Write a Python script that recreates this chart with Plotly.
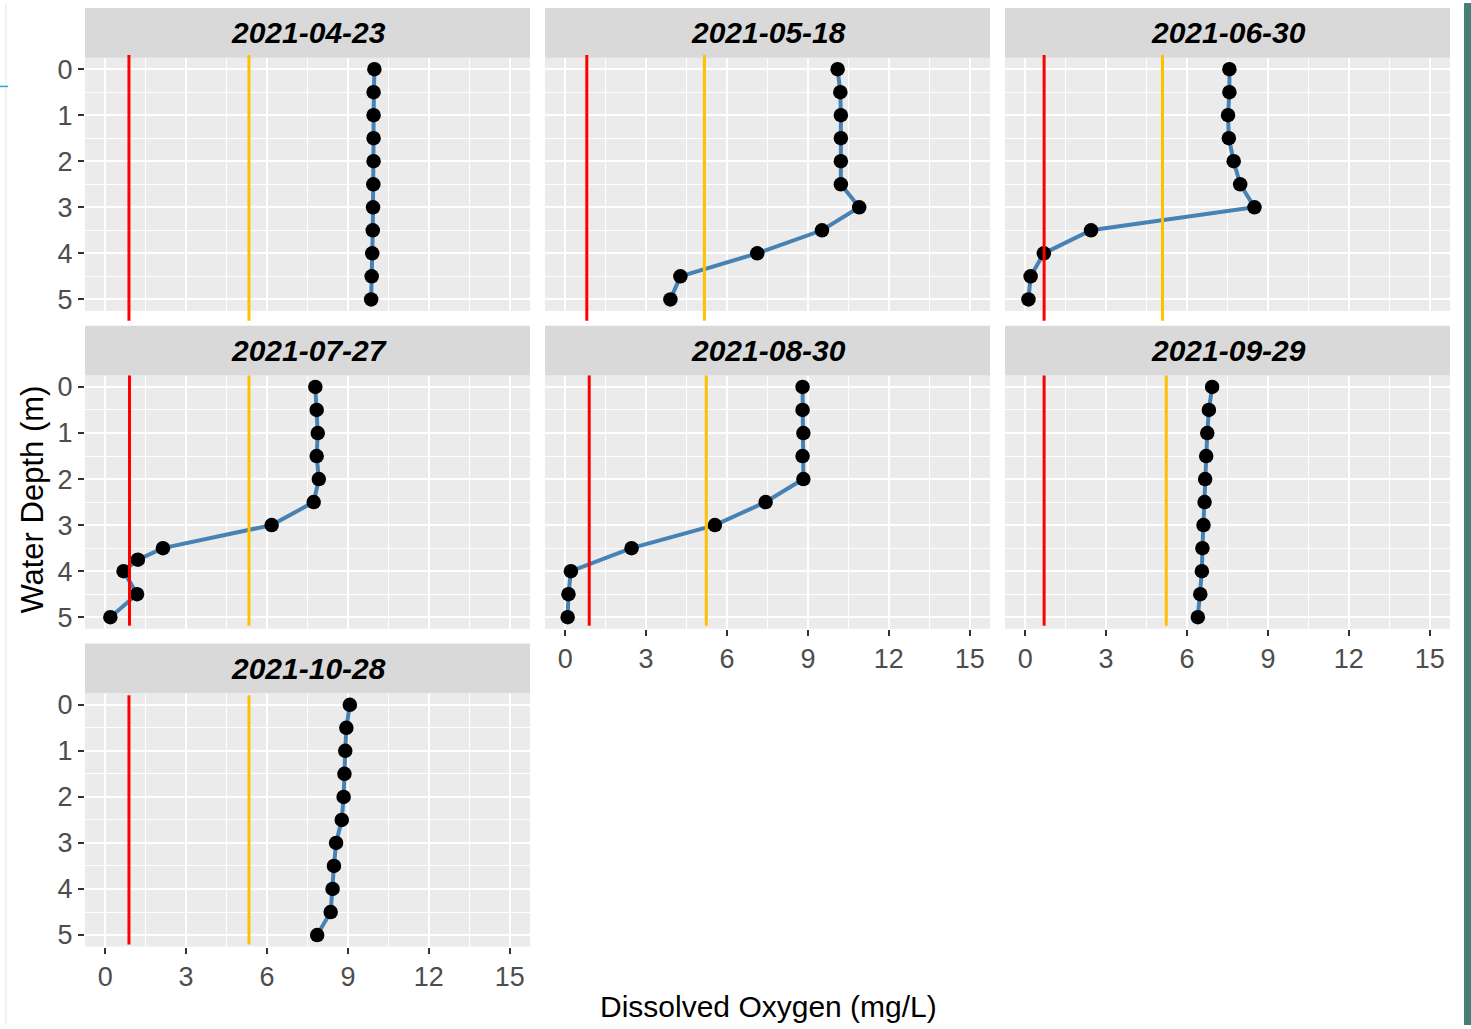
import plotly.graph_objects as go

# ---------------- data ----------------
dates = ["2021-04-23", "2021-05-18", "2021-06-30", "2021-07-27",
         "2021-08-30", "2021-09-29", "2021-10-28"]

depth_std = [0, 0.5, 1, 1.5, 2, 2.5, 3, 3.5, 4, 4.5, 5]
depth_0727 = [0, 0.5, 1, 1.5, 2, 2.5, 3, 3.5, 3.75, 4, 4.5, 5]

do_0423 = [9.98, 9.95, 9.95, 9.95, 9.95, 9.94, 9.93, 9.92, 9.90, 9.88, 9.86]
do_0518 = [10.10, 10.20, 10.22, 10.22, 10.22, 10.22, 10.90, 9.52, 7.12, 4.27, 3.90]
do_0630 = [7.57, 7.57, 7.52, 7.55, 7.73, 7.97, 8.50, 2.44, 0.69, 0.20, 0.12]
do_0727 = [7.79, 7.84, 7.88, 7.84, 7.92, 7.73, 6.17, 2.14, 1.21, 0.68, 1.18, 0.19]
do_0830 = [8.80, 8.80, 8.83, 8.80, 8.83, 7.43, 5.55, 2.46, 0.21, 0.12, 0.09]
do_0929 = [6.93, 6.81, 6.75, 6.71, 6.67, 6.65, 6.61, 6.57, 6.55, 6.49, 6.40]
do_1028 = [9.07, 8.94, 8.90, 8.87, 8.84, 8.77, 8.56, 8.48, 8.43, 8.36, 7.86]

depths = [depth_std, depth_std, depth_std, depth_0727, depth_std, depth_std, depth_std]
do_values = [do_0423, do_0518, do_0630, do_0727, do_0830, do_0929, do_1028]

red_line = [0.88, 0.80, 0.70, 0.90, 0.89, 0.70, 0.88]
yellow_line = [5.33, 5.16, 5.09, 5.33, 5.23, 5.23, 5.33]

x_ticks = [0, 3, 6, 9, 12, 15]
y_ticks = [0, 1, 2, 3, 4, 5]

# ---------------- layout geometry (pixels) ----------------
W, H = 1471, 1029
col_px = [(85, 530), (545, 990), (1005, 1450)]
row_panel_px = [(55, 310), (375, 630), (695, 950)]
row_strip_px = [(5, 55), (325, 375), (645, 695)]
# vertical extent of the threshold lines per row (y-domain fractions)
row_line_ext = [(-0.039, 1.01), (0.012, 1.0), (0.008, 0.992)]

def px_x(p):
    return p / W

def px_y(p):
    return 1 - p / H

FONT = "Liberation Sans, Arial, sans-serif"
TICK_COL = "#4D4D4D"

fig = go.Figure()
shapes = []
annotations = []

# bottom-most panel in each column carries the x tick labels
x_label_panels = {4, 5, 6}

for i, (date, dep, dov) in enumerate(zip(dates, depths, do_values)):
    r, c = divmod(i, 3)
    n = i + 1
    xa = "x" if n == 1 else f"x{n}"
    ya = "y" if n == 1 else f"y{n}"
    fig.add_trace(go.Scatter(
        x=dov, y=dep, xaxis=xa, yaxis=ya, mode="lines+markers",
        line=dict(color="#4682B4", width=4),
        marker=dict(color="black", size=14.5),
        showlegend=False, hoverinfo="x+y",
    ))

    x0p, x1p = col_px[c]
    y0p, y1p = row_panel_px[r]
    show_x = i in x_label_panels
    show_y = c == 0
    xkey = "xaxis" if n == 1 else f"xaxis{n}"
    ykey = "yaxis" if n == 1 else f"yaxis{n}"
    fig.update_layout(**{
        xkey: dict(
            domain=[px_x(x0p), px_x(x1p)], anchor=ya,
            range=[-0.75, 15.75], tickvals=x_ticks,
            showticklabels=show_x,
            ticks="outside" if show_x else "", ticklen=6, tickwidth=1.5,
            tickcolor="#333333",
            tickfont=dict(family=FONT, size=27, color=TICK_COL),
            showgrid=True, gridcolor="white", gridwidth=2,
            minor=dict(dtick=1.5, tick0=0, showgrid=True, gridcolor="white",
                       gridwidth=1),
            zeroline=False, showline=False, fixedrange=True,
        ),
        ykey: dict(
            domain=[px_y(y1p), px_y(y0p)], anchor=xa,
            range=[5.25, -0.25], tickvals=y_ticks,
            showticklabels=show_y,
            ticks="outside" if show_y else "", ticklen=6, tickwidth=1.5,
            tickcolor="#333333",
            tickfont=dict(family=FONT, size=27, color=TICK_COL),
            showgrid=True, gridcolor="white", gridwidth=2,
            minor=dict(dtick=0.5, tick0=0, showgrid=True, gridcolor="white",
                       gridwidth=1),
            zeroline=False, showline=False, fixedrange=True,
        ),
    })

    # strip
    s0, s1 = row_strip_px[r]
    shapes.append(dict(type="rect", xref="paper", yref="paper",
                       x0=px_x(x0p), x1=px_x(x1p), y0=px_y(s1), y1=px_y(s0),
                       fillcolor="#D9D9D9", line=dict(width=0), layer="above"))
    annotations.append(dict(
        text=f"<b><i>{date}</i></b>", xref="paper", yref="paper",
        x=px_x((x0p + x1p) / 2 + 1), y=px_y((s0 + s1) / 2),
        xanchor="center", yanchor="middle", showarrow=False,
        font=dict(family=FONT, size=30, color="black"),
    ))

    # threshold lines
    e0, e1 = row_line_ext[r]
    shapes.append(dict(type="line", xref=xa, yref=f"{ya} domain",
                       x0=red_line[i], x1=red_line[i], y0=e0, y1=e1,
                       line=dict(color="#FF0000", width=3), layer="above"))
    shapes.append(dict(type="line", xref=xa, yref=f"{ya} domain",
                       x0=yellow_line[i], x1=yellow_line[i], y0=e0, y1=e1,
                       line=dict(color="#FFC000", width=3), layer="above"))

# axis titles
annotations.append(dict(
    text="Dissolved Oxygen (mg/L)", xref="paper", yref="paper",
    x=px_x(768), y=px_y(1010), xanchor="center", yanchor="middle",
    showarrow=False, font=dict(family=FONT, size=30, color="black"),
))
annotations.append(dict(
    text="Water Depth (m)", xref="paper", yref="paper",
    x=px_x(33), y=px_y(500), xanchor="center", yanchor="middle",
    textangle=-90, showarrow=False,
    font=dict(family=FONT, size=31, color="black"),
))

# slide-edge decorations seen in the screenshot
shapes.append(dict(type="rect", xref="paper", yref="paper",
                   x0=px_x(1464), x1=1.0, y0=0, y1=1,
                   fillcolor="#467F78", line=dict(width=0), layer="above"))
shapes.append(dict(type="line", xref="paper", yref="paper",
                   x0=px_x(6), x1=px_x(6), y0=px_y(1029), y1=px_y(0),
                   line=dict(color="#E6E6E6", width=1), layer="above"))
shapes.append(dict(type="line", xref="paper", yref="paper",
                   x0=0, x1=px_x(8), y0=px_y(84), y1=px_y(84),
                   line=dict(color="#29A3E0", width=1.5), layer="above"))

fig.update_layout(
    width=W, height=H,
    margin=dict(l=0, r=0, t=0, b=0),
    paper_bgcolor="white", plot_bgcolor="#EBEBEB",
    shapes=shapes, annotations=annotations,
    font=dict(family=FONT),
    showlegend=False,
)

fig.write_html(
    "out.html",
    config={"displayModeBar": False, "staticPlot": False},
    post_script="document.body.style.margin='0px';"
                "document.body.style.overflow='hidden';",
)
